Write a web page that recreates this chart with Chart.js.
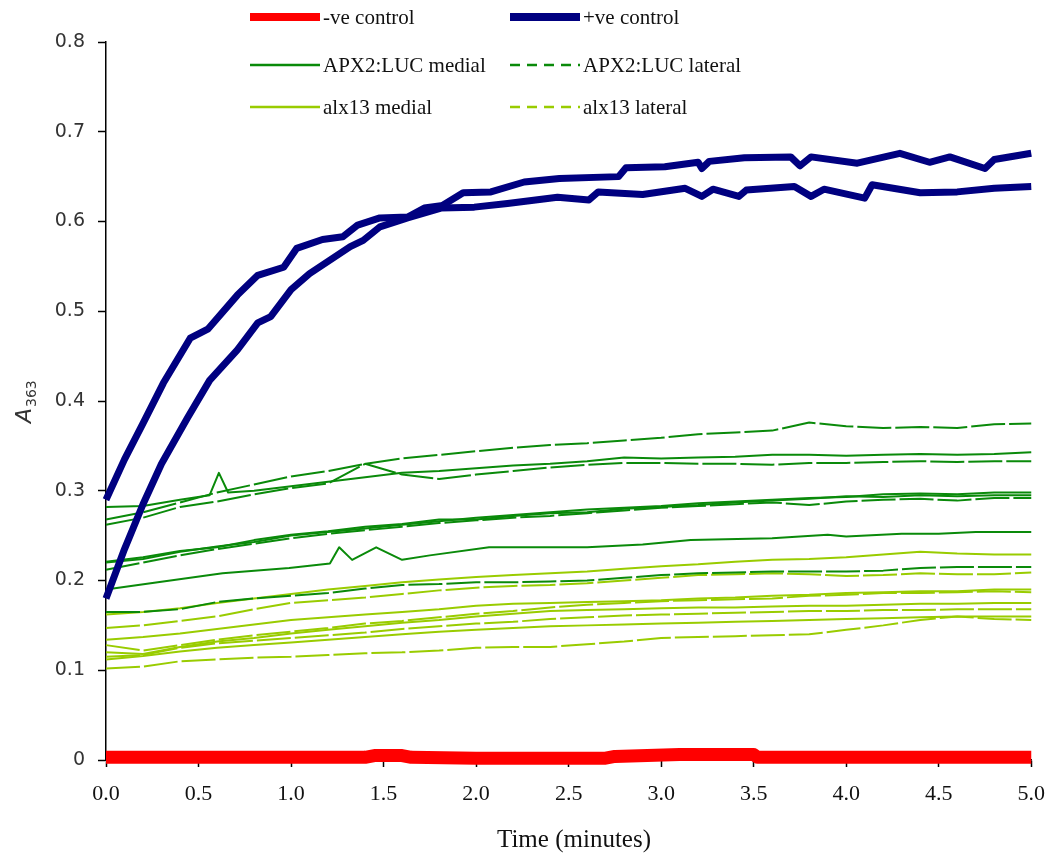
<!DOCTYPE html>
<html>
<head>
<meta charset="utf-8">
<script src="https://cdn.jsdelivr.net/npm/chart.js@4/dist/chart.umd.min.js"></script>
<style>
  body { margin: 0; background: #fff; }
  #wrap { width: 1059px; height: 854px; }
</style>
</head>
<body>
<div id="wrap"><canvas id="chart" width="1059" height="854"></canvas></div>
<script>
// Time axis (minutes) shared by most of the green traces
const timeGrid = [0, 0.2, 0.4, 0.6, 0.8, 1.0, 1.2, 1.4, 1.6, 1.8, 2.0, 2.2, 2.4,
  2.6, 2.8, 3.0, 3.2, 3.4, 3.6, 3.8, 4.0, 4.2, 4.4, 4.6, 4.8, 5.0];

// -ve control
const negTimes = [0, 1.4, 1.45, 1.6, 1.65, 2.0, 2.7, 2.75, 3.1, 3.5, 3.52, 5.0];
const negValues = [0.003, 0.003, 0.005, 0.005, 0.003, 0.002, 0.002, 0.004, 0.006, 0.006, 0.003, 0.003];

// +ve control, two traces
const posTimesA = [0, 0.1, 0.2, 0.31, 0.455, 0.55, 0.71, 0.82, 0.96, 1.03, 1.17, 1.28,
  1.36, 1.48, 1.63, 1.72, 1.82, 1.93, 2.08, 2.26, 2.45, 2.77, 2.81, 3.02, 3.2, 3.22,
  3.26, 3.45, 3.7, 3.75, 3.81, 4.06, 4.29, 4.45, 4.56, 4.75, 4.8, 5.0];
const posValuesA = [0.29, 0.335, 0.375, 0.42, 0.47, 0.48, 0.518, 0.54, 0.549, 0.57, 0.58, 0.583,
  0.596, 0.604, 0.605, 0.615, 0.618, 0.632, 0.633, 0.644, 0.648, 0.65, 0.66, 0.661, 0.666, 0.659,
  0.667, 0.671, 0.672, 0.662, 0.672, 0.665, 0.676, 0.666, 0.672, 0.659, 0.669, 0.676];
const posTimesB = [0, 0.1, 0.2, 0.3, 0.44, 0.56, 0.71, 0.82, 0.89, 1.0, 1.1, 1.21, 1.32,
  1.39, 1.48, 1.63, 1.81, 1.99, 2.17, 2.44, 2.61, 2.66, 2.9, 3.13, 3.22, 3.28, 3.42, 3.46,
  3.72, 3.81, 3.88, 4.1, 4.14, 4.4, 4.6, 4.8, 5.0];
const posValuesB = [0.18, 0.235, 0.285, 0.33, 0.381, 0.423, 0.457, 0.487, 0.494, 0.524, 0.542,
  0.557, 0.572, 0.579, 0.594, 0.604, 0.615, 0.616, 0.62, 0.627, 0.624, 0.633, 0.63, 0.637, 0.628,
  0.636, 0.628, 0.635, 0.639, 0.628, 0.636, 0.626, 0.641, 0.632, 0.633, 0.637, 0.639];

// APX2:LUC medial
// first trace has a short spike near 0.6 min, so it keeps its own time points
const apxMedial1Times = [0, 0.2, 0.4, 0.56, 0.61, 0.66, 0.8, 1.0, 1.2, 1.4, 1.6, 1.8, 2.0, 2.2, 2.4,
  2.6, 2.8, 3.0, 3.2, 3.4, 3.6, 3.8, 4.0, 4.2, 4.4, 4.6, 4.8, 5.0];
const apxMedial1 = [0.282, 0.283, 0.290, 0.295, 0.320, 0.298, 0.300, 0.305, 0.310, 0.315, 0.320, 0.322, 0.325,
  0.328, 0.330, 0.333, 0.337, 0.336, 0.337, 0.338, 0.340, 0.340, 0.339, 0.340, 0.341, 0.340, 0.341, 0.343];
const apxMedial2 = [0.220, 0.224, 0.232, 0.238, 0.243, 0.250, 0.254, 0.258, 0.262, 0.266, 0.270, 0.273, 0.276,
  0.279, 0.281, 0.283, 0.286, 0.288, 0.290, 0.292, 0.293, 0.296, 0.297, 0.296, 0.298, 0.298];
const apxMedial3 = [0.221, 0.226, 0.233, 0.237, 0.245, 0.251, 0.255, 0.260, 0.263, 0.268, 0.268, 0.272, 0.275,
  0.276, 0.280, 0.282, 0.284, 0.287, 0.289, 0.291, 0.294, 0.293, 0.295, 0.294, 0.295, 0.295];
// spikes near 1.3 min
const apxMedial4Times = [0, 0.28, 0.63, 0.99, 1.21, 1.26, 1.33, 1.46, 1.6, 1.75, 2.07, 2.6, 2.9,
  3.16, 3.6, 3.9, 4.0, 4.3, 4.5, 4.7, 5.0];
const apxMedial4 = [0.190, 0.198, 0.208, 0.214, 0.219, 0.237, 0.223, 0.237, 0.223, 0.228, 0.237, 0.237, 0.240,
  0.245, 0.247, 0.251, 0.249, 0.252, 0.252, 0.254, 0.254];

// APX2:LUC lateral
const apxLateral1 = [0.268, 0.276, 0.287, 0.298, 0.307, 0.316, 0.322, 0.330, 0.336, 0.340, 0.344, 0.348, 0.351,
  0.353, 0.356, 0.359, 0.363, 0.365, 0.367, 0.376, 0.372, 0.370, 0.371, 0.370, 0.374, 0.375];
const apxLateral2 = [0.262, 0.270, 0.282, 0.288, 0.296, 0.303, 0.308, 0.330, 0.318, 0.313, 0.318, 0.322, 0.326,
  0.329, 0.331, 0.331, 0.330, 0.330, 0.329, 0.331, 0.331, 0.332, 0.333, 0.332, 0.333, 0.333];
const apxLateral3 = [0.212, 0.220, 0.228, 0.235, 0.241, 0.247, 0.252, 0.256, 0.260, 0.264, 0.267, 0.270, 0.272,
  0.275, 0.278, 0.281, 0.283, 0.285, 0.287, 0.284, 0.288, 0.290, 0.291, 0.289, 0.292, 0.292];
const apxLateral4 = [0.165, 0.165, 0.168, 0.176, 0.180, 0.183, 0.186, 0.191, 0.195, 0.196, 0.198, 0.198, 0.199,
  0.200, 0.203, 0.206, 0.208, 0.209, 0.210, 0.210, 0.210, 0.211, 0.214, 0.215, 0.215, 0.215];

// alx13 medial
const alxMedial1 = [0.162, 0.165, 0.169, 0.175, 0.180, 0.185, 0.190, 0.194, 0.198, 0.201, 0.204, 0.206, 0.208,
  0.210, 0.213, 0.216, 0.218, 0.221, 0.223, 0.224, 0.226, 0.229, 0.232, 0.230, 0.229, 0.229];
const alxMedial2 = [0.134, 0.137, 0.141, 0.146, 0.151, 0.156, 0.159, 0.162, 0.165, 0.168, 0.172, 0.174, 0.175,
  0.176, 0.177, 0.178, 0.180, 0.181, 0.183, 0.184, 0.186, 0.187, 0.188, 0.188, 0.190, 0.190];
const alxMedial3 = [0.120, 0.118, 0.126, 0.132, 0.136, 0.141, 0.145, 0.149, 0.153, 0.156, 0.160, 0.163, 0.166,
  0.167, 0.168, 0.169, 0.170, 0.170, 0.171, 0.172, 0.172, 0.173, 0.174, 0.174, 0.175, 0.175];
const alxMedial4 = [0.112, 0.116, 0.121, 0.125, 0.128, 0.131, 0.134, 0.137, 0.140, 0.143, 0.145, 0.147, 0.149,
  0.150, 0.151, 0.152, 0.153, 0.154, 0.155, 0.156, 0.157, 0.158, 0.159, 0.160, 0.160, 0.160];

// alx13 lateral
const alxLateral1 = [0.147, 0.150, 0.155, 0.160, 0.168, 0.175, 0.178, 0.181, 0.185, 0.189, 0.192, 0.194, 0.195,
  0.197, 0.200, 0.203, 0.206, 0.207, 0.208, 0.207, 0.205, 0.206, 0.208, 0.207, 0.207, 0.209];
const alxLateral2 = [0.128, 0.122, 0.128, 0.134, 0.139, 0.143, 0.147, 0.152, 0.155, 0.159, 0.163, 0.166, 0.170,
  0.173, 0.175, 0.177, 0.178, 0.179, 0.180, 0.183, 0.184, 0.186, 0.186, 0.187, 0.188, 0.187];
const alxLateral3 = [0.115, 0.117, 0.125, 0.130, 0.133, 0.136, 0.139, 0.142, 0.146, 0.149, 0.152, 0.154, 0.157,
  0.159, 0.161, 0.162, 0.163, 0.164, 0.165, 0.166, 0.166, 0.167, 0.167, 0.168, 0.168, 0.168];
const alxLateral4 = [0.102, 0.104, 0.110, 0.112, 0.114, 0.115, 0.117, 0.119, 0.120, 0.122, 0.125, 0.126, 0.126,
  0.129, 0.132, 0.136, 0.137, 0.138, 0.139, 0.140, 0.145, 0.150, 0.156, 0.160, 0.157, 0.156];

// Legend entries
const legendLabels = ['-ve control', '+ve control', 'APX2:LUC medial', 'APX2:LUC lateral', 'alx13 medial', 'alx13 lateral'];

const RED = '#ff0000';
const NAVY = '#000080';
const DARK_GREEN = '#0a8a0a';
const LIGHT_GREEN = '#99cc00';
const LATERAL_DASH = [34, 4];

function toPoints(times, values) {
  return times.map((t, i) => ({x: t, y: values[i]}));
}

function traceSet(times, values, color, width, dash) {
  return {
    data: toPoints(times, values),
    borderColor: color,
    borderWidth: width,
    borderDash: dash || [],
    borderCapStyle: 'butt',
    borderJoinStyle: 'round',
    pointRadius: 0,
    tension: 0,
    clip: false,
  };
}

// first dataset is painted on top
const datasets = [
  traceSet(negTimes, negValues, RED, 13),
  traceSet(posTimesA, posValuesA, NAVY, 7),
  traceSet(posTimesB, posValuesB, NAVY, 7),
  traceSet(apxMedial1Times, apxMedial1, DARK_GREEN, 2),
  traceSet(timeGrid, apxMedial2, DARK_GREEN, 2),
  traceSet(timeGrid, apxMedial3, DARK_GREEN, 2),
  traceSet(apxMedial4Times, apxMedial4, DARK_GREEN, 2),
  traceSet(timeGrid, apxLateral1, DARK_GREEN, 2, LATERAL_DASH),
  traceSet(timeGrid, apxLateral2, DARK_GREEN, 2, LATERAL_DASH),
  traceSet(timeGrid, apxLateral3, DARK_GREEN, 2, LATERAL_DASH),
  traceSet(timeGrid, apxLateral4, DARK_GREEN, 2, LATERAL_DASH),
  traceSet(timeGrid, alxMedial1, LIGHT_GREEN, 2),
  traceSet(timeGrid, alxMedial2, LIGHT_GREEN, 2),
  traceSet(timeGrid, alxMedial3, LIGHT_GREEN, 2),
  traceSet(timeGrid, alxMedial4, LIGHT_GREEN, 2),
  traceSet(timeGrid, alxLateral1, LIGHT_GREEN, 2, LATERAL_DASH),
  traceSet(timeGrid, alxLateral2, LIGHT_GREEN, 2, LATERAL_DASH),
  traceSet(timeGrid, alxLateral3, LIGHT_GREEN, 2, LATERAL_DASH),
  traceSet(timeGrid, alxLateral4, LIGHT_GREEN, 2, LATERAL_DASH),
];

// Legend samples: colour, width, dash
const legendStyles = [
  {color: RED, width: 8, dash: []},
  {color: NAVY, width: 8, dash: []},
  {color: DARK_GREEN, width: 2.5, dash: []},
  {color: DARK_GREEN, width: 2.5, dash: [10, 7]},
  {color: LIGHT_GREEN, width: 2.5, dash: []},
  {color: LIGHT_GREEN, width: 2.5, dash: [10, 7]},
];

// Legend, axis titles
const extrasPlugin = {
  id: 'extras',
  afterDraw(chart) {
    const ctx = chart.ctx;
    const rows = [17, 65, 107];
    const cols = [{x0: 250, x1: 320, tx: 323}, {x0: 510, x1: 580, tx: 583}];

    ctx.save();
    legendLabels.forEach((label, i) => {
      const y = rows[Math.floor(i / 2)];
      const col = cols[i % 2];
      const st = legendStyles[i];
      ctx.beginPath();
      ctx.setLineDash(st.dash);
      ctx.strokeStyle = st.color;
      ctx.lineWidth = st.width;
      ctx.moveTo(col.x0, y);
      ctx.lineTo(col.x1, y);
      ctx.stroke();
      ctx.setLineDash([]);
      ctx.fillStyle = '#111';
      ctx.font = '21px "Liberation Serif"';
      ctx.textAlign = 'left';
      ctx.textBaseline = 'middle';
      ctx.fillText(label, col.tx, y + 1);
    });

    // x title
    ctx.font = '25px "Liberation Serif"';
    ctx.textAlign = 'center';
    ctx.fillText('Time (minutes)', 574, 840);

    // y title: A with subscript 363
    ctx.translate(31, 423);
    ctx.rotate(-Math.PI / 2);
    ctx.textAlign = 'left';
    ctx.textBaseline = 'alphabetic';
    ctx.fillStyle = '#333';
    ctx.font = 'italic 22px "DejaVu Sans"';
    ctx.fillText('A', 0, 0);
    const aw = ctx.measureText('A').width;
    ctx.font = '14px "DejaVu Sans"';
    ctx.fillText('363', aw + 1, 5);
    ctx.restore();
  },
};

function initChart() {
  const ctx = document.getElementById('chart').getContext('2d');
  return new Chart(ctx, {
    type: 'line',
    data: {datasets},
    options: {
      responsive: false,
      animation: false,
      events: [],
      layout: {padding: {left: 0, right: 25, top: 42, bottom: 0}},
      plugins: {legend: {display: false}, tooltip: {enabled: false}},
      scales: {
        x: {
          type: 'linear',
          min: 0,
          max: 5,
          afterFit: (scale) => { scale.height = 94; },
          ticks: {
            stepSize: 0.5,
            padding: 14,
            color: '#111',
            font: {family: '"Liberation Serif"', size: 22},
            callback: (v) => v.toFixed(1),
          },
          grid: {drawOnChartArea: false, tickLength: 7, tickColor: '#000', tickWidth: 1.5},
          border: {display: true, color: '#000', width: 1.5},
        },
        y: {
          min: 0,
          max: 0.8,
          afterFit: (scale) => { scale.width = 106; },
          ticks: {
            stepSize: 0.1,
            padding: 13,
            color: '#333',
            font: {family: '"DejaVu Sans"', size: 19},
            callback: (v) => (v === 0 ? '0' : v.toFixed(1)),
          },
          grid: {drawOnChartArea: false, tickLength: 8, tickColor: '#000', tickWidth: 1.5},
          border: {display: true, color: '#000', width: 1.5},
        },
      },
    },
    plugins: [extrasPlugin],
  });
}

initChart();
</script>
</body>
</html>
